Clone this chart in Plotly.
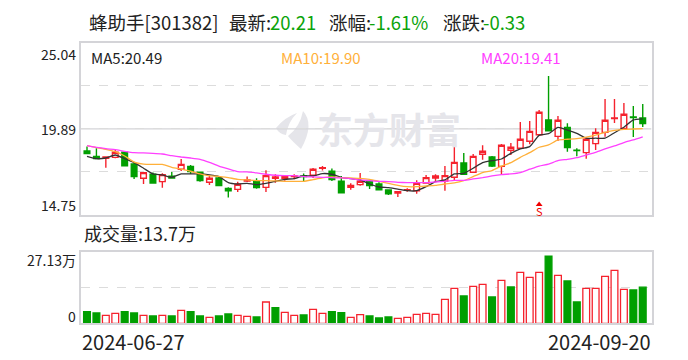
import plotly.graph_objects as go

W, H = 688, 360
ma5 = [18.25,18.11,18.15,18.33,18.11,17.87,17.54,17.20,17.14,17.00,17.20,17.20,17.20,17.14,17.04,16.68,16.60,16.64,16.56,16.64,
       16.76,16.88,16.92,17.08,17.08,17.22,17.18,17.00,16.92,16.84,16.60,16.42,16.38,16.30,16.20,16.20,16.44,16.74,16.84,17.20,
       17.24,17.54,17.87,17.99,18.09,18.43,18.69,18.83,19.50,19.60,19.98,19.82,19.62,19.33,19.33,19.33,19.66,19.98,20.42,20.49]
ma10 = [18.89,18.77,18.67,18.53,18.27,17.91,17.79,17.77,17.77,17.59,17.48,17.36,17.20,17.08,17.06,16.98,16.88,16.84,16.80,16.80,
        16.78,16.76,16.76,16.76,16.86,16.96,17.02,16.98,16.96,16.94,16.88,16.76,16.64,16.52,16.44,16.44,16.48,16.52,16.60,16.66,
        16.80,17.04,17.28,17.40,17.67,17.87,18.19,18.47,18.79,18.93,19.23,19.27,19.31,19.40,19.52,19.68,19.80,19.86,19.88,19.90]
ma20 = [18.89,18.79,18.71,18.65,18.55,18.47,18.45,18.43,18.39,18.29,18.21,18.15,18.07,17.89,17.67,17.50,17.34,17.32,17.26,17.18,
        17.12,17.10,17.10,17.04,17.02,17.00,16.98,16.96,16.92,16.84,16.80,16.76,16.74,16.70,16.68,16.68,16.68,16.72,16.76,16.82,
        16.82,16.90,16.98,17.08,17.16,17.20,17.28,17.48,17.67,17.79,17.99,18.07,18.17,18.33,18.49,18.69,18.87,19.07,19.23,19.41]
opens = [18.57,18.25,18.13,18.19,18.49,17.79,16.94,17.18,16.74,17.06,17.48,17.65,17.30,16.70,16.96,16.34,16.28,16.78,16.80,16.40,
         16.94,16.94,17.04,17.10,17.12,17.53,17.36,16.76,16.40,16.56,16.76,16.60,16.24,16.06,16.22,16.20,16.66,16.96,16.78,17.00,
         17.85,17.30,18.37,18.21,17.65,18.61,18.73,19.15,19.54,20.42,19.44,19.98,18.61,18.47,19.01,19.68,20.50,19.92,20.60,20.54]
closes = [18.41,18.11,18.21,18.49,17.69,17.04,17.28,16.66,17.16,16.96,17.77,17.34,16.80,16.94,16.50,16.20,16.58,16.84,16.38,17.10,
          17.02,17.08,17.08,17.04,17.48,17.57,16.86,16.08,16.52,16.76,16.50,16.26,16.02,16.14,16.26,16.64,16.98,17.08,17.10,17.89,
          17.18,18.25,18.55,17.67,18.91,18.79,19.27,19.74,20.88,19.78,20.40,18.77,18.59,19.27,19.68,20.40,20.54,20.76,20.56,20.21]
highs = [18.83,18.73,18.23,18.67,18.53,17.93,17.28,17.28,17.24,17.32,18.09,17.73,17.34,17.10,17.04,16.40,16.74,17.04,16.94,17.42,
         17.18,17.14,17.18,17.22,17.56,17.67,17.53,17.08,16.64,17.26,16.84,16.70,16.28,16.14,16.34,16.82,17.14,17.18,17.67,18.81,
         18.45,18.39,18.91,18.27,18.99,19.05,20.30,20.36,21.02,23.04,20.66,20.22,18.73,19.37,19.92,21.67,21.67,21.43,21.25,21.37]
lows = [18.41,18.07,17.57,18.13,17.69,16.90,16.60,16.62,16.38,16.92,17.38,17.20,16.74,16.54,16.50,15.79,16.12,16.72,16.32,16.12,
        16.68,16.80,16.88,16.76,16.96,17.40,16.78,16.08,16.26,16.50,16.30,16.26,15.94,15.82,16.14,16.02,16.64,16.74,16.20,16.84,
        17.18,17.30,18.05,17.61,17.14,18.33,18.71,18.97,19.54,19.78,19.17,18.53,18.25,18.11,18.63,19.42,20.24,19.92,19.40,20.00]
volumes = [4.42,3.91,3.03,3.79,4.42,3.91,3.03,2.78,3.03,2.78,4.92,4.42,2.78,2.27,2.78,3.53,3.03,2.65,2.40,8.08,
           5.93,4.16,3.03,3.16,5.30,3.79,4.42,4.04,2.27,3.28,2.78,2.02,2.40,1.89,2.27,3.41,3.79,3.41,9.09,13.25,
           10.35,14.01,14.77,9.97,16.28,13.76,19.31,17.42,19.31,25.49,18.17,16.03,8.08,13.25,13.25,17.79,20.07,12.87,12.62,13.70]
vol_dir = list("ggrrggrgrgrggrggrrgrgrrgrrggrrgggrrrrrrrgrrgrgrrrgrggrrrrrgg")
days = list(range(60))
price_ticks = [14.75, 17.32, 19.89, 22.47, 25.04]
price_labels = ["25.04", "19.89", "14.75"]
vol_labels = ["27.13万", "0"]
date_labels = ["2024-06-27", "2024-09-20"]
signal_day = [48]
signal_price = [15.38]

RED, GREEN = "#f5222d", "#009f00"
GRID = "#dcdcdc"
BORDER = "#d4d4d8"
FONT = "Noto Sans CJK SC"

def px(v): return v / W
def py(v): return 1 - v / H

XR = [-0.69, 59.93]
fig = go.Figure()
fig.add_trace(go.Candlestick(
    x=days, open=opens, high=highs, low=lows, close=closes, xaxis="x", yaxis="y",
    increasing=dict(line=dict(color=RED, width=1.4), fillcolor="white"),
    decreasing=dict(line=dict(color=GREEN, width=1.4), fillcolor=GREEN),
    showlegend=False, hoverinfo="skip"))
for vals, c in ((ma5, "#333333"), (ma10, "#ffb03a"), (ma20, "#ff40ff")):
    fig.add_trace(go.Scatter(x=days, y=vals, mode="lines", xaxis="x", yaxis="y",
                             line=dict(color=c, width=1.3, shape="spline", smoothing=0.5),
                             showlegend=False, hoverinfo="skip"))
fig.add_trace(go.Scatter(x=signal_day, y=signal_price, mode="markers", xaxis="x", yaxis="y",
                         marker=dict(symbol="triangle-up", size=6, color="#f00000"),
                         showlegend=False, hoverinfo="skip"))
fig.add_trace(go.Bar(
    x=days, y=volumes, xaxis="x2", yaxis="y2", width=0.72,
    marker=dict(color=["white" if d == "r" else GREEN for d in vol_dir],
                line=dict(color=[RED if d == "r" else GREEN for d in vol_dir], width=1.3)),
    showlegend=False, hoverinfo="skip"))

axis = dict(showline=True, mirror=True, linecolor=BORDER, linewidth=1.5, ticks="", zeroline=False, showticklabels=False)

def path(points):
    return " ".join(f"{c}{px(x):.5f},{py(y):.5f}" for c, x, y in points)

fig.update_layout(
    width=W, height=H, margin=dict(l=0, r=0, t=0, b=0), autosize=False,
    paper_bgcolor="white", plot_bgcolor="rgba(0,0,0,0)", boxgap=0.14,
    font=dict(family=FONT, color="#222222"),
    xaxis=dict(axis, domain=[px(80.5), px(651.5)], range=XR, rangeslider=dict(visible=False), showgrid=False, anchor="y"),
    yaxis=dict(axis, domain=[py(215), py(42.5)], range=[14.75, 25.04], tickvals=price_ticks, showgrid=True,
               griddash="dash", gridcolor=GRID, gridwidth=1, anchor="x"),
    xaxis2=dict(axis, domain=[px(80.5), px(651.5)], range=XR, showgrid=False, anchor="y2"),
    yaxis2=dict(axis, domain=[py(323.3), py(251.7)], range=[0, 27.13], tickvals=[13.565], showgrid=True,
                griddash="dash", gridcolor=GRID, gridwidth=1, anchor="x2"),
    shapes=[
        dict(type="line", xref="x", yref="y", x0=XR[0], x1=XR[1], y0=19.89, y1=19.89,
             line=dict(color=BORDER, width=1.3), layer="below"),
        dict(type="path", xref="paper", yref="paper", layer="below", line=dict(width=0), fillcolor="#e5e5ea",
             path=path([("M", 276, 128), ("Q", 285, 117), ("", 297, 113), ("Q", 288, 122), ("", 286, 135),
                        ("Q", 279, 134), ("", 276, 128)])),
        dict(type="path", xref="paper", yref="paper", layer="below", line=dict(width=0), fillcolor="#e5e5ea",
             path=path([("M", 303, 111), ("Q", 315, 124), ("", 301, 149), ("Q", 292, 141), ("", 288, 136),
                        ("Q", 300, 127), ("", 303, 111)])),
    ],
)

def note(text, x, y, size, color="#222222", anchor="left", **kw):
    fig.add_annotation(text=text, x=px(x), y=py(y), xref="paper", yref="paper", showarrow=False,
                       xanchor=anchor, yanchor="middle", font=dict(size=size, color=color, family=FONT), **kw)

TG = "#0aa30a"
note("蜂助手[301382]", 87, 22, 18.5)
note("最新:", 227, 22, 18.5)
note("20.21", 268, 22, 18.5, TG)
note("涨幅:", 327, 22, 18.5)
note("-1.61%", 367, 22, 18.5, TG)
note("涨跌:", 441, 22, 18.5)
note("-0.33", 481, 22, 18.5, TG)
note("MA5:20.49", 89, 57, 15)
note("MA10:19.90", 279, 57, 15, "#ffb03a")
note("MA20:19.41", 479, 57, 15, "#ff40ff")
note(price_labels[0], 78, 54, 14, anchor="right")
note(price_labels[1], 78, 129, 14, anchor="right")
note(price_labels[2], 78, 205, 14, anchor="right")
note("成交量:13.7万", 82, 233, 18)
note(vol_labels[0], 78, 260, 14, anchor="right")
note(vol_labels[1], 78, 316, 14, anchor="right")
note(date_labels[0], 80, 341, 20)
note(date_labels[1], 653, 341, 20, anchor="right")
note("<b>东方财富</b>", 389, 128, 36, "#e5e5ea", anchor="center")
fig.add_annotation(text="S", x=48, y=15.0, xref="x", yref="y", showarrow=False,
                   font=dict(size=11, color="#f00000", family=FONT), yanchor="middle")

fig.write_html("out.html", config=dict(displayModeBar=False), post_script="document.body.style.margin='0';")
